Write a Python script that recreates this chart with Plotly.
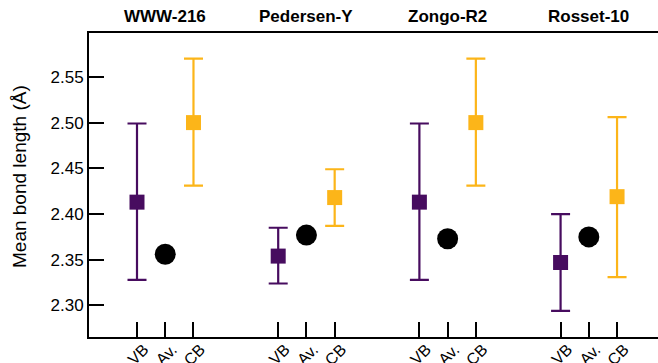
import plotly.graph_objects as go

groups = ["WWW-216", "Pedersen-Y", "Zongo-R2", "Rosset-10"]
tick_names = ["VB", "Av.", "CB"]
vb_mean = [2.413, 2.354, 2.413, 2.347]
vb_upper = [2.499, 2.385, 2.499, 2.400]
vb_lower = [2.328, 2.324, 2.328, 2.294]
av_mean = [2.356, 2.377, 2.373, 2.375]
cb_mean = [2.500, 2.418, 2.500, 2.419]
cb_upper = [2.570, 2.449, 2.570, 2.506]
cb_lower = [2.431, 2.387, 2.431, 2.331]
y_ticks = [2.30, 2.35, 2.40, 2.45, 2.50, 2.55]

PURPLE = "#470c5f"
ORANGE = "#fcb519"
GAP = 5

vb_x = [i * GAP for i in range(len(groups))]
av_x = [i * GAP + 1 for i in range(len(groups))]
cb_x = [i * GAP + 2 for i in range(len(groups))]

fig = go.Figure()
fig.add_trace(go.Scatter(
    x=vb_x, y=vb_mean, mode="markers",
    marker=dict(symbol="square", size=15, color=PURPLE),
    error_y=dict(type="data", symmetric=False,
                 array=[u - m for u, m in zip(vb_upper, vb_mean)],
                 arrayminus=[m - l for m, l in zip(vb_mean, vb_lower)],
                 color=PURPLE, thickness=2.2, width=9.5),
    showlegend=False))
fig.add_trace(go.Scatter(
    x=av_x, y=av_mean, mode="markers",
    marker=dict(symbol="circle", size=21, color="black"),
    showlegend=False))
fig.add_trace(go.Scatter(
    x=cb_x, y=cb_mean, mode="markers",
    marker=dict(symbol="square", size=15, color=ORANGE),
    error_y=dict(type="data", symmetric=False,
                 array=[u - m for u, m in zip(cb_upper, cb_mean)],
                 arrayminus=[m - l for m, l in zip(cb_mean, cb_lower)],
                 color=ORANGE, thickness=2.2, width=9.5),
    showlegend=False))

for g, x in zip(groups, av_x):
    fig.add_annotation(x=x, y=1.0, xref="x", yref="paper", yshift=17,
                       text="<b>" + g + "</b>", showarrow=False,
                       font=dict(size=17, color="black", family="Arial"),
                       xanchor="center", yanchor="middle")

fig.add_annotation(x=0, y=0.5, xref="paper", yref="paper", xshift=-70,
                   yshift=8, text="Mean bond length (Å)", textangle=-90,
                   showarrow=False, font=dict(size=19, color="black"),
                   xanchor="center", yanchor="middle")

all_x = []
all_t = []
for i in range(len(groups)):
    all_x += [vb_x[i], av_x[i], cb_x[i]]
    all_t += tick_names

fig.update_layout(
    width=658, height=363,
    margin=dict(l=89, r=0, t=33, b=26),
    paper_bgcolor="white", plot_bgcolor="white",
    font=dict(family="Arial", color="black"),
    xaxis=dict(range=[-1.7, 18.45], tickvals=all_x, ticktext=all_t,
               tickangle=-45, ticks="inside", ticklen=15, tickwidth=1.5,
               tickcolor="black", showline=True, linecolor="black",
               linewidth=1.8, mirror=True, showgrid=False, zeroline=False,
               tickfont=dict(size=16), automargin=False,
               ticklabelstandoff=-5, ticklabelshift=7),
    yaxis=dict(range=[2.2655, 2.598], tickvals=y_ticks,
               ticktext=["%.2f" % v for v in y_ticks],
               ticks="inside", ticklen=15, tickwidth=1.5, tickcolor="black",
               showline=True, linecolor="black", linewidth=1.8,
               showgrid=False, zeroline=False, tickfont=dict(size=17),
               automargin=False),
)

fig.write_html("out.html", config={"displayModeBar": False},
               post_script="document.body.style.margin='0';")
